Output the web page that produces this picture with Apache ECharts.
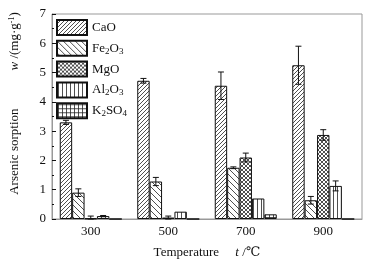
<!DOCTYPE html>
<html>
<head>
<meta charset="utf-8">
<script src="https://cdn.jsdelivr.net/npm/echarts@6/dist/echarts.min.js"></script>
<style>
  html, body { margin: 0; padding: 0; background: #fff; }
  #chart { width: 370px; height: 264px; }
</style>
</head>
<body>
<div id="chart"></div>
<script>
const temps = ['300', '500', '700', '900'];
const seriesNames = ['CaO', 'Fe2O3', 'MgO', 'Al2O3', 'K2SO4'];
const legendLabels = ['CaO', 'Fe{sub|2}O{sub|3}', 'MgO', 'Al{sub|2}O{sub|3}', 'K{sub|2}SO{sub|4}'];

// sorption values (mg/g)
const caO   = [3.30, 4.72, 4.55, 5.25];
const fe2O3 = [0.90, 1.28, 1.75, 0.64];
const mgO   = [0.02, 0.05, 2.10, 2.87];
const al2O3 = [0.10, 0.25, 0.70, 1.13];
const k2SO4 = [0.00, 0.00, 0.16, 0.00];

// error bar half-lengths
const caOErr   = [0.07, 0.08, 0.47, 0.65];
const fe2O3Err = [0.13, 0.14, 0.03, 0.13];
const mgOErr   = [0.08, 0.05, 0.15, 0.18];
const al2O3Err = [0.02, 0.00, 0.00, 0.17];
const k2SO4Err = [0.00, 0.00, 0.00, 0.00];

const yTicks = [0, 1, 2, 3, 4, 5, 6, 7];

const values = [caO, fe2O3, mgO, al2O3, k2SO4];
const errors = [caOErr, fe2O3Err, mgOErr, al2O3Err, k2SO4Err];

// hatch fills
function makePattern(kind) {
    const s = kind === 'back' ? 6 : 4;
    const c = document.createElement('canvas');
    c.width = s; c.height = s;
    const g = c.getContext('2d');
    g.fillStyle = '#fff';
    g.fillRect(0, 0, s, s);
    g.strokeStyle = '#222';
    g.lineWidth = 0.8;
    g.beginPath();
    if (kind === 'fwd' || kind === 'cross') {
        for (let k = -1; k <= 1; k++) {
            g.moveTo(k * s, s); g.lineTo(k * s + s, 0);
        }
    }
    if (kind === 'back' || kind === 'cross') {
        for (let k = -1; k <= 1; k++) {
            g.moveTo(k * s, 0); g.lineTo(k * s + s, s);
        }
    }
    if (kind === 'vert' || kind === 'grid') {
        g.moveTo(1.5, 0); g.lineTo(1.5, s);
    }
    if (kind === 'grid') {
        g.moveTo(0, 1.5); g.lineTo(s, 1.5);
    }
    g.stroke();
    return { image: c, repeat: 'repeat' };
}
const patterns = ['fwd', 'back', 'cross', 'vert', 'grid'].map(makePattern);

const chart = echarts.init(document.getElementById('chart'));

const barSeries = seriesNames.map((name, i) => ({
    name: name,
    type: 'bar',
    barGap: 0,
    barCategoryGap: '20%',
    data: values[i],
    itemStyle: { color: patterns[i], borderColor: '#111', borderWidth: 1 },
    emphasis: { disabled: true }
}));

const errSeries = seriesNames.map((name, i) => ({
    type: 'custom',
    silent: true,
    z: 5,
    data: values[i].map((v, k) => [k, v, errors[i][k]]),
    renderItem: function (params, api) {
        const x = api.value(0), v = api.value(1), e = api.value(2);
        if (!e) return null;
        const bw = api.size([1, 0])[0] * 0.8 / 5;
        const cx = api.coord([x, v])[0] + (i - 2) * bw;
        const yTop = api.coord([x, v + e])[1];
        const yBot = api.coord([x, Math.max(v - e, 0)])[1];
        const st = { stroke: '#111', lineWidth: 1 };
        return {
            type: 'group',
            children: [
                { type: 'line', shape: { x1: cx, y1: yTop, x2: cx, y2: yBot }, style: st },
                { type: 'line', shape: { x1: cx - 3, y1: yTop, x2: cx + 3, y2: yTop }, style: st },
                { type: 'line', shape: { x1: cx - 3, y1: yBot, x2: cx + 3, y2: yBot }, style: st }
            ]
        };
    }
}));

const serif = '"Liberation Serif", "DejaVu Serif", serif';

const option = {
    animation: false,
    textStyle: { fontFamily: serif },
    grid: { left: 47, right: 8, top: 14, bottom: 42, show: true, borderColor: '#999', borderWidth: 1 },
    legend: {
        data: seriesNames.map(n => ({ name: n, icon: 'rect' })),
        orient: 'vertical',
        left: 56,
        top: 19,
        padding: 0,
        itemWidth: 30,
        itemHeight: 15,
        itemGap: 3.8,
        selectedMode: false,
        formatter: name => legendLabels[seriesNames.indexOf(name)],
        textStyle: {
            fontFamily: serif, fontSize: 13, color: '#111', lineHeight: 15,
            rich: { sub: { fontSize: 9, fontFamily: serif, lineHeight: 15, verticalAlign: 'bottom' } }
        }
    },
    xAxis: {
        type: 'category',
        data: temps,
        name: 'Temperature     {i|t} /℃',
        nameLocation: 'middle',
        nameGap: 27,
        nameTextStyle: {
            fontFamily: serif, fontSize: 13, color: '#111',
            rich: { i: { fontStyle: 'italic', fontFamily: serif, fontSize: 13 } }
        },
        axisLine: { lineStyle: { color: '#999' } },
        axisTick: { inside: true, length: 3, lineStyle: { color: '#111' } },
        axisLabel: { fontFamily: serif, fontSize: 13, color: '#111', margin: 6 }
    },
    yAxis: {
        type: 'value',
        min: yTicks[0],
        max: yTicks[yTicks.length - 1],
        interval: 1,
        name: '{pad|}Arsenic sorption{gap|}{i|w} /(mg·g{sup|-1})',
        nameLocation: 'middle',
        nameGap: 30,
        nameTextStyle: {
            fontFamily: serif, fontSize: 13, color: '#111',
            rich: {
                pad: { width: 26 },
                gap: { width: 38 },
                i: { fontStyle: 'italic', fontFamily: serif, fontSize: 13 },
                sup: { fontSize: 8, fontFamily: serif, verticalAlign: 'top', padding: [0, 0, 6, 0] }
            }
        },
        axisLine: { show: true, lineStyle: { color: '#999' } },
        axisTick: { show: true, inside: true, length: 4, lineStyle: { color: '#111' } },
        minorTick: { show: true, splitNumber: 2, length: 2, lineStyle: { color: '#111' } },
        splitLine: { show: false },
        axisLabel: { fontFamily: serif, fontSize: 13, color: '#111', margin: 6 }
    },
    series: barSeries.concat(errSeries)
};

chart.setOption(option);
</script>
</body>
</html>
